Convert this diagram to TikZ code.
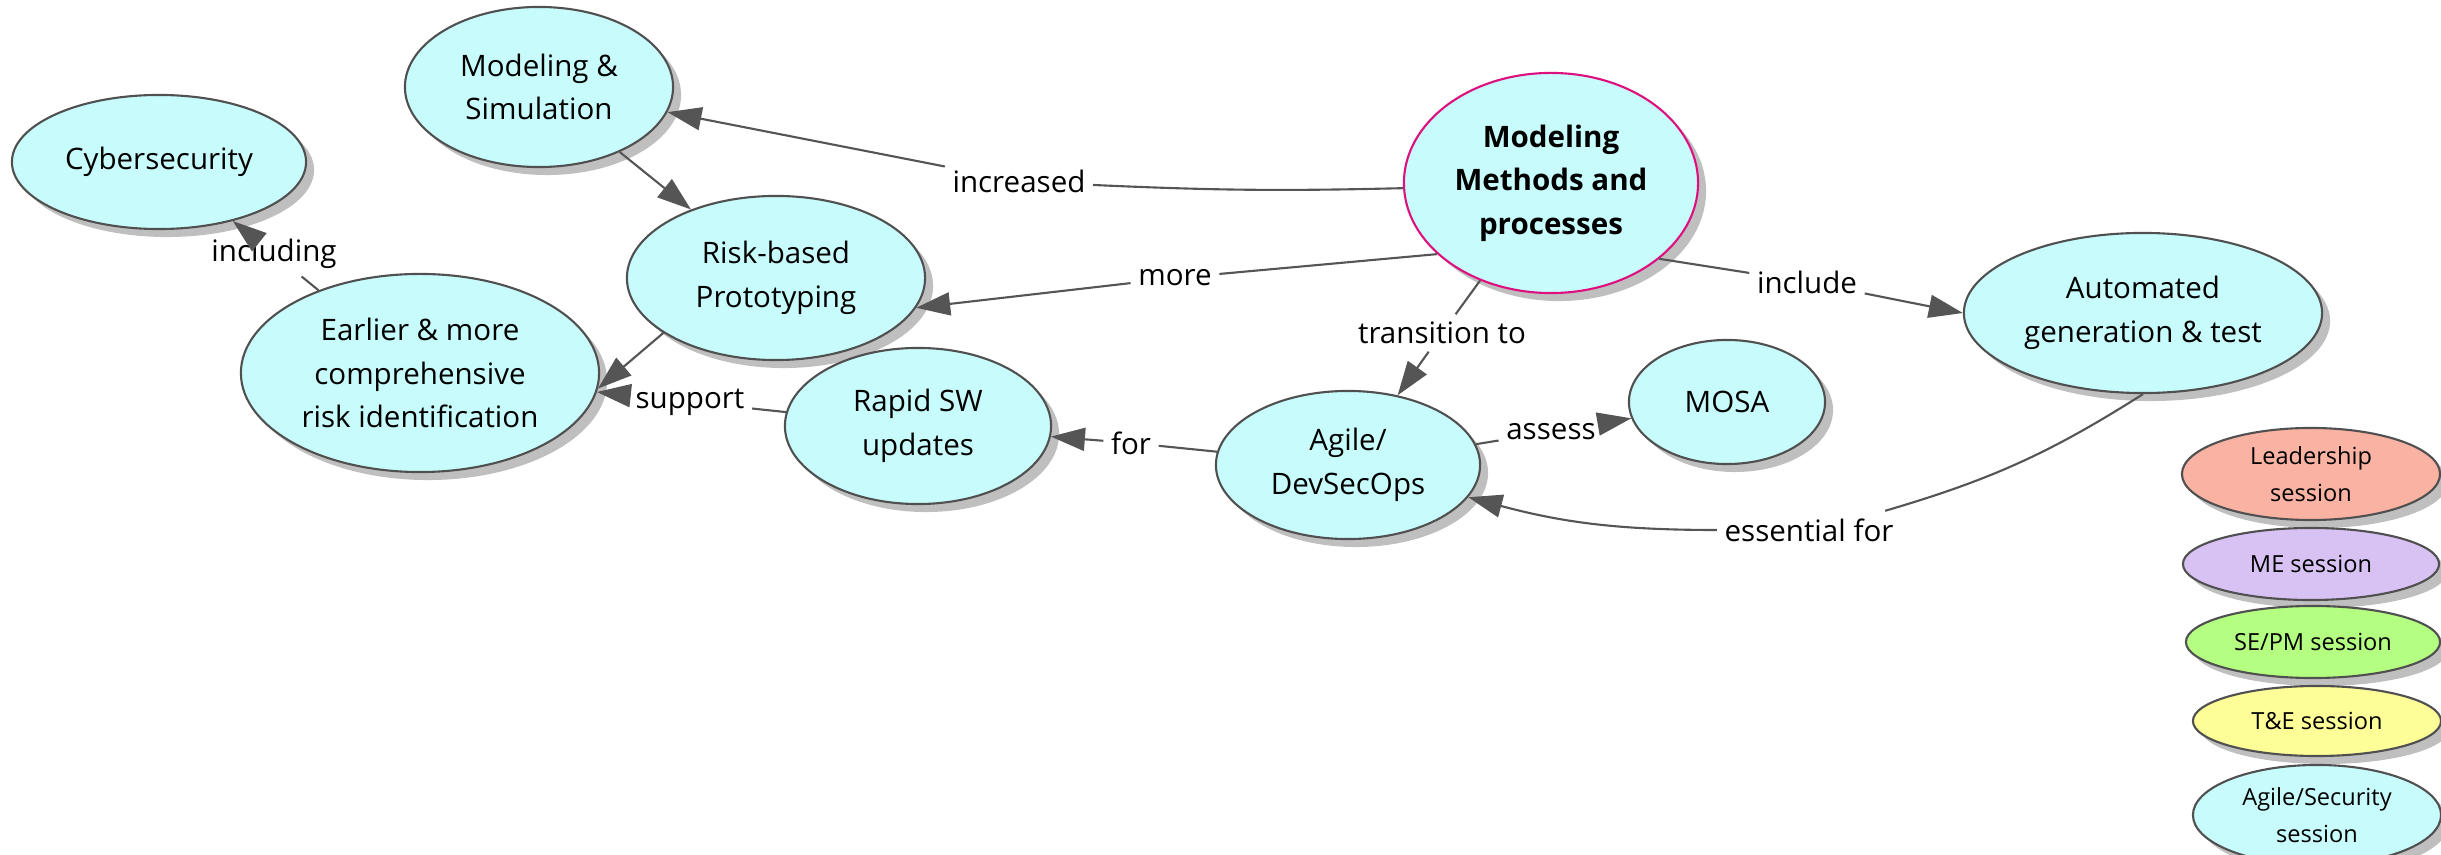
\documentclass[tikz,border=0pt]{standalone}
\usepackage{fontspec}
\setmainfont{Open Sans}
\usetikzlibrary{shapes.geometric,shadows,arrows.meta}
\definecolor{bubblecyan}{RGB}{200,252,252}
\definecolor{leadsalmon}{RGB}{250,178,162}
\definecolor{melilac}{RGB}{216,194,244}
\definecolor{pmgreen}{RGB}{180,254,130}
\definecolor{teyellow}{RGB}{254,254,152}
\definecolor{mmpmagenta}{RGB}{222,16,128}
\definecolor{linkgray}{RGB}{85,85,85}
\definecolor{rimgray}{RGB}{80,80,80}

\begin{document}
\begin{tikzpicture}[x=0.01cm,y=-0.01cm,
	  bubble/.style={ellipse,draw=rimgray,line width=0.6pt,fill=bubblecyan,inner sep=0pt,align=center,
	    font=\fontsize{8.4}{12.4}\selectfont,
	    drop shadow={shadow xshift=0.08cm,shadow yshift=-0.08cm,fill=black!50}},
	  keybox/.style={bubble,font=\fontsize{6.7}{10.4}\selectfont},
	  linklabel/.style={inner sep=2pt,font=\fontsize{8.4}{12.4}\selectfont},
	  link/.style={draw=linkgray,line width=0.6pt},
	  arrowlink/.style={link,-{Triangle[length=0.34cm,width=0.23cm]}},
	  ]
	  \useasboundingbox (0,0) rectangle (2441,855);
	  \node[bubble,minimum width=2.94cm,minimum height=1.34cm] (cyber) at (159,162) {Cybersecurity};
	  \node[bubble,minimum width=2.68cm,minimum height=1.60cm] (modsim) at (539,87) {Modeling \&\\Simulation};
	  \node[bubble,minimum width=2.98cm,minimum height=1.64cm] (riskproto) at (776,278) {Risk-based\\Prototyping};
	  \node[bubble,minimum width=3.58cm,minimum height=1.98cm] (earlier) at (420,373) {Earlier \& more\\comprehensive\\risk identification};
	  \node[bubble,minimum width=2.66cm,minimum height=1.56cm] (rapidsw) at (918,426) {Rapid SW\\updates};
	  \node[bubble,draw=mmpmagenta,minimum width=2.94cm,minimum height=2.20cm] (methods) at (1551,183) {\bfseries Modeling\\\bfseries Methods and\\\bfseries processes};
	  \node[bubble,minimum width=2.64cm,minimum height=1.48cm] (agile) at (1348,465) {Agile/\\DevSecOps};
	  \node[bubble,minimum width=1.96cm,minimum height=1.24cm] (mosa) at (1727,402) {MOSA};
	  \node[bubble,minimum width=3.58cm,minimum height=1.60cm] (autogen) at (2143,313) {Automated\\generation \& test};
	  % session key
	  \node[keybox,fill=leadsalmon,minimum width=2.58cm,minimum height=0.92cm] (keylead) at (2311,474) {Leadership\\session};
	  \node[keybox,fill=melilac,minimum width=2.56cm,minimum height=0.72cm] (keyme) at (2311,564) {ME session};
	  \node[keybox,fill=pmgreen,minimum width=2.54cm,minimum height=0.72cm] (keysepm) at (2313,642) {SE/PM session};
	  \node[keybox,fill=teyellow,minimum width=2.48cm,minimum height=0.70cm] (keyte) at (2317,721) {T\&E session};
	  \node[keybox,minimum width=2.48cm,minimum height=1.00cm] (keyagile) at (2317,815) {Agile/Security\\session};
	  \node[linklabel] (including) at (274,254) {including};
	  \node[linklabel] (increased) at (1019,181) {increased};
	  \node[linklabel] (more) at (1175,278) {more};
	  \node[linklabel] (include) at (1807,282) {include};
	  \node[linklabel] (transition) at (1442,333) {transition to};
	  \node[linklabel] (forlabel) at (1131,443) {for};
	  \node[linklabel] (support) at (690,402) {support};
	  \node[linklabel] (assess) at (1551,432) {assess};
	  \node[linklabel] (essential) at (1809,530) {essential for};
	  \draw[link] (earlier) -- (including);
	  \draw[arrowlink] (including) -- (cyber);
	  \draw[arrowlink] (modsim) -- (riskproto);
	  \draw[link] (methods.182) to[bend left=2] (increased);
	  \draw[arrowlink] (increased) -- (modsim);
	  \draw[link] (methods.212) -- (more);
	  \draw[arrowlink] (more) -- (riskproto.-12);
	  \draw[link] (methods.-35) -- (include);
	  \draw[arrowlink] (include) -- (autogen.west);
	  \draw[link] (methods) -- (transition);
	  \draw[arrowlink] (transition) -- (agile);
	  \draw[link] (agile) -- (forlabel);
	  \draw[arrowlink] (forlabel) -- (rapidsw);
	  \draw[link] (rapidsw) -- (support);
	  \draw[arrowlink] (support) -- (earlier);
	  \draw[arrowlink] (riskproto.206) -- (earlier.-5);
	  \draw[link] (agile) -- (assess);
	  \draw[arrowlink] (assess) -- (mosa);
	  \draw[link] (autogen.south) to[bend left=8] (essential);
	  \draw[arrowlink] (essential) to[out=180,in=-15] (agile);
\end{tikzpicture}
\end{document}
